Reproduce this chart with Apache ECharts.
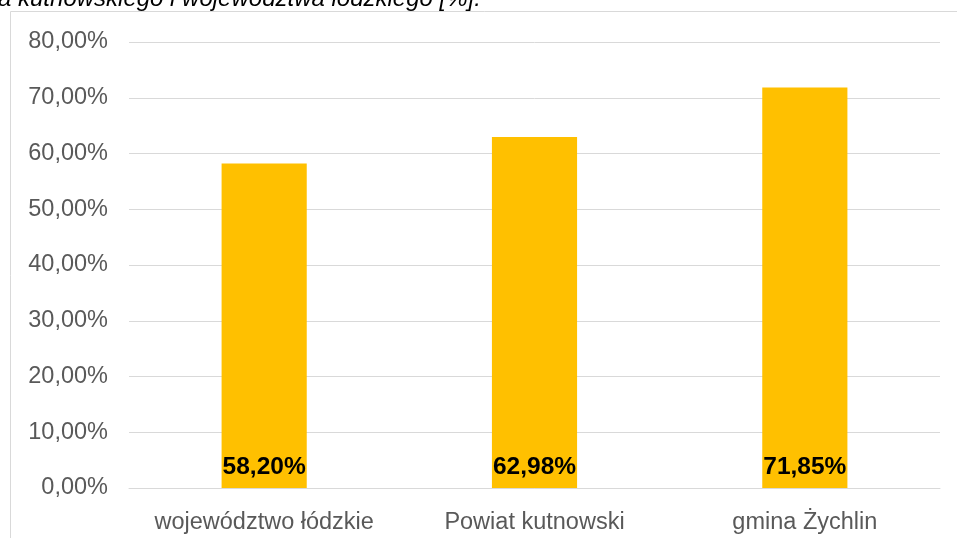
<!DOCTYPE html>
<html>
<head>
<meta charset="utf-8">
<script src="https://cdn.jsdelivr.net/npm/echarts@6/dist/echarts.min.js"></script>
<style>
  html, body { margin: 0; padding: 0; background: #fff; }
  #chart { width: 957px; height: 538px; }
</style>
</head>
<body>
<div id="chart"></div>
<script>
const categories = ['województwo łódzkie', 'Powiat kutnowski', 'gmina Żychlin']
const values = [58.20, 62.98, 71.85]
const titleText = 'a kutnowskiego i województwa łódzkiego [%].'

const fmt = v => v.toFixed(2).replace('.', ',') + '%'

const chart = echarts.init(document.getElementById('chart'))
const option = {
  animation: false,
  textStyle: { fontFamily: 'Liberation Sans, Arial, sans-serif' },
  graphic: [
    {
      type: 'rect',
      shape: { x: 10.5, y: 11.5, width: 960, height: 540 },
      style: { fill: 'none', stroke: '#d9d9d9', lineWidth: 1 }
    },
    {
      type: 'text',
      left: -2,
      top: -13,
      style: {
        text: titleText,
        font: 'italic 24px "Liberation Sans", Arial, sans-serif',
        fill: '#000'
      }
    }
  ],
  grid: { left: 129, right: 17, top: 42, bottom: 50, containLabel: false },
  xAxis: {
    type: 'category',
    data: categories,
    axisLine: { show: true, lineStyle: { color: '#d9d9d9', width: 1 } },
    axisTick: { show: false },
    axisLabel: { color: '#595959', fontSize: 23.5, margin: 23, interval: 0, hideOverlap: false }
  },
  yAxis: {
    type: 'value',
    min: 0,
    max: 80,
    interval: 10,
    axisLine: { show: false },
    axisTick: { show: false },
    splitLine: { lineStyle: { color: '#d9d9d9', width: 1 } },
    axisLabel: { color: '#595959', fontSize: 23.5, margin: 21, padding: [4, 0, 0, 0], formatter: v => fmt(v) }
  },
  series: [{
    type: 'bar',
    data: values,
    barWidth: '31.5%',
    itemStyle: { color: '#ffc000' },
    label: {
      show: true,
      position: 'insideBottom',
      distance: 8,
      color: '#000',
      fontWeight: 'bold',
      fontSize: 24.5,
      formatter: p => fmt(p.value)
    }
  }]
}
chart.setOption(option)
</script>
</body>
</html>
